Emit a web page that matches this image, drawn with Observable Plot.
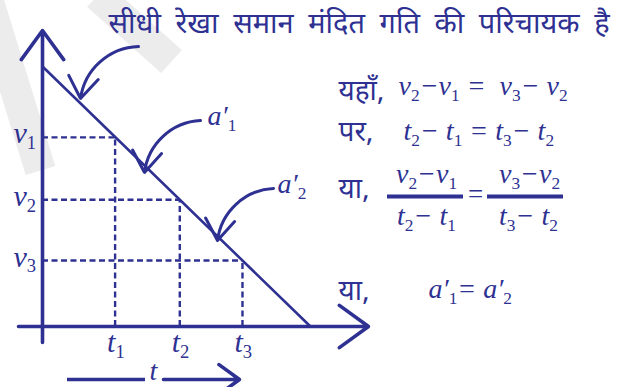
<!DOCTYPE html>
<html><head><meta charset="utf-8">
<script src="https://cdn.jsdelivr.net/npm/d3@7"></script>
<script src="https://cdn.jsdelivr.net/npm/@observablehq/plot@0.6"></script>
<style>html,body{margin:0;padding:0;background:#fff;overflow:hidden}</style>
</head><body><div id="chart"></div>
<script>
// ---------- data ----------
const title = "सीधी रेखा समान मंदित गति की परिचायक है";
const vLabels = ["v_1", "v_2", "v_3"];
const tLabels = ["t_1", "t_2", "t_3"];
const vValues = [2.91, 1.95, 1.015];
const tValues = [1.1, 2.08, 3.03];
const vInitial = 4.0;   // velocity at t = 0
const tStop = 4.06;     // time at which velocity becomes 0
const hindiWords = ["यहाँ,", "पर,", "या,", "या,"];
const equations = ["v_2−v_1 =  v_3− v_2", "t_2− t_1 = t_3− t_2", "a′_1= a′_2"];
const numerators = ["v_2−v_1", "v_3−v_2"];
const denominators = ["t_2− t_1", "t_3− t_2"];
const slopeLabels = ["a′_1", "a′_2"];
const axisLabel = "t";

// ---------- layout helpers (pixel -> data units) ----------
const W = 618, H = 387;
const X = px => (px - 42) / 66;
const Y = py => (326 - py) / 65;
const INK = "#2E3192";
const SERIF = "'Liberation Serif', 'Times New Roman', serif";
const HINDI = "'Noto Sans Devanagari', 'Lohit Devanagari', 'FreeSans', 'Noto Sans', sans-serif";

const curved = [
  {x1: X(138), y1: Y(46), x2: X(80), y2: Y(98)},
  {x1: X(200), y1: Y(120), x2: X(144), y2: Y(172)},
  {x1: X(273), y1: Y(188), x2: X(217), y2: Y(240)}
];
const bands = [
  {x1: X(97), y1: Y(-5), x2: X(171), y2: Y(61)},
  {x1: X(-14), y1: Y(-5), x2: X(40), y2: Y(170)}
];

const marks = [
  // faint watermark bands
  Plot.link(bands, {x1: "x1", y1: "y1", x2: "x2", y2: "y2", stroke: "#ececec", strokeWidth: 31, strokeLinecap: "butt"}),
  // dashed guides
  Plot.ruleY(vValues, {y: d => d, x1: 0, x2: (d, i) => tValues[i], stroke: INK, strokeWidth: 2.4, strokeDasharray: "6,3.5"}),
  Plot.ruleX(tValues, {x: d => d, y1: 0, y2: (d, i) => vValues[i], stroke: INK, strokeWidth: 2.4, strokeDasharray: "6,3.5"}),
  // velocity line
  Plot.line([[0, vInitial], [tStop, 0]], {stroke: INK, strokeWidth: 2.6}),
  // axes
  Plot.arrow([{x1: 0, y1: Y(342), x2: 0, y2: Y(30)}], {x1: "x1", y1: "y1", x2: "x2", y2: "y2", stroke: INK, strokeWidth: 3.6, headLength: 15, headAngle: 72}),
  Plot.arrow([{x1: X(18), y1: 0, x2: X(368), y2: 0}], {x1: "x1", y1: "y1", x2: "x2", y2: "y2", stroke: INK, strokeWidth: 3.6, headLength: 15, headAngle: 72}),
  // bottom t arrow
  Plot.ruleY([Y(379)], {x1: X(67), x2: X(145), stroke: INK, strokeWidth: 3.6}),
  Plot.arrow([{x1: X(163), y1: Y(379), x2: X(239), y2: Y(379)}], {x1: "x1", y1: "y1", x2: "x2", y2: "y2", stroke: INK, strokeWidth: 3.6, headLength: 14, headAngle: 72}),
  Plot.text([axisLabel], {x: X(153), y: Y(371), text: d => d, fontSize: 28, fontFamily: SERIF, fontStyle: "italic", fill: INK}),
  // curved pointer arrows
  Plot.arrow(curved, {x1: "x1", y1: "y1", x2: "x2", y2: "y2", bend: -40, stroke: INK, strokeWidth: 3, headLength: 13, headAngle: 70}),
  // axis tick labels
  Plot.text(vLabels, {x: X(13), y: (d, i) => vValues[i] + 3.6 / 65, text: d => d, textAnchor: "start", fontSize: 30, fontFamily: SERIF, fontStyle: "italic", fill: INK}),
  Plot.text(tLabels, {x: (d, i) => tValues[i] - 8 / 66, y: Y(342), text: d => d, textAnchor: "start", fontSize: 30, fontFamily: SERIF, fontStyle: "italic", fill: INK}),
  // slope labels
  Plot.text(slopeLabels, {x: (d, i) => [X(207), X(277)][i], y: (d, i) => [Y(116), Y(184)][i], text: d => d, textAnchor: "start", fontSize: 28, fontFamily: SERIF, fontStyle: "italic", fill: INK}),
  // title
  Plot.text([title], {x: X(108), y: Y(23), text: d => d, textAnchor: "start", fontSize: 29, fontFamily: HINDI, fill: INK, className: "title"}),
  // right side hindi words
  Plot.text(hindiWords, {x: X(338), y: (d, i) => [Y(91), Y(132), Y(189), Y(291)][i], text: d => d, textAnchor: "start", fontSize: 28, fontFamily: HINDI, fill: INK}),
  // equations
  Plot.text(equations, {x: (d, i) => [X(398), X(403), X(428)][i], y: (d, i) => [Y(86), Y(131), Y(289)][i], text: d => d, textAnchor: "start", fontSize: 28, fontFamily: SERIF, fontStyle: "italic", fill: INK}),
  Plot.text(numerators, {x: (d, i) => [X(426), X(529)][i], y: Y(174), text: d => d, fontSize: 28, fontFamily: SERIF, fontStyle: "italic", fill: INK}),
  Plot.text(denominators, {x: (d, i) => [X(426), X(528)][i], y: Y(216), text: d => d, fontSize: 28, fontFamily: SERIF, fontStyle: "italic", fill: INK}),
  Plot.ruleY([Y(196)], {x1: X(387), x2: X(463), stroke: INK, strokeWidth: 4}),
  Plot.ruleY([Y(196)], {x1: X(487), x2: X(563), stroke: INK, strokeWidth: 4}),
  Plot.text(["="], {x: X(475), y: Y(194), text: d => d, fontSize: 27, fontFamily: SERIF, fill: INK})
];

const svg = Plot.plot({
  width: W, height: H,
  margin: 0,
  x: {domain: [X(0), X(W)], range: [0, W], axis: null},
  y: {domain: [Y(H), Y(0)], range: [H, 0], axis: null},
  style: {background: "#fff", overflow: "hidden"},
  marks
});

// title word spacing
d3.select(svg).selectAll("g.title text").style("word-spacing", "7px");

// subscripts: "_c" -> smaller, lowered, upright character
const NS = "http://www.w3.org/2000/svg";
d3.select(svg).selectAll("text").each(function () {
  const s = this.textContent;
  if (!s.includes("_")) return;
  this.textContent = "";
  this.setAttribute("xml:space", "preserve");
  let shifted = false;
  for (const p of s.split(/(_.)/)) {
    if (!p) continue;
    const ts = document.createElementNS(NS, "tspan");
    if (p[0] === "_") {
      ts.textContent = p[1];
      ts.setAttribute("font-size", "62%");
      ts.setAttribute("font-style", "normal");
      ts.setAttribute("dy", "0.32em");
      shifted = true;
    } else {
      ts.textContent = p;
      if (shifted) { ts.setAttribute("dy", "-0.2em"); shifted = false; }
    }
    this.appendChild(ts);
  }
});
document.getElementById("chart").appendChild(svg);
</script></body></html>
